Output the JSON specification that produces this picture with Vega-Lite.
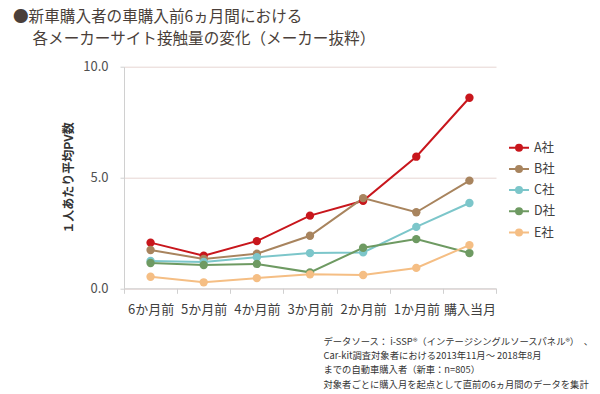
{
  "$schema": "https://vega.github.io/schema/vega-lite/v6.json",
  "autosize": "none",
  "width": 372,
  "height": 221.6,
  "padding": {"left": 124, "top": 66.7, "right": 104, "bottom": 105.7},
  "background": "white",
  "config": {
    "font": "Noto Sans CJK JP",
    "view": {"stroke": null}
  },
  "title": {
    "text": ["●新車購入者の車購入前6ヵ月間における", "\u200b\u3000\u2005各メーカーサイト接触量の変化（メーカー抜粋）"],
    "anchor": "start",
    "frame": "group",
    "dx": -111,
    "offset": 13,
    "fontSize": 15.6,
    "fontWeight": "normal",
    "color": "#4A3F3A",
    "lineHeight": 22,
    "font": "Noto Sans CJK JP"
  },
  "data": {
    "values": [
      {"month": "6か月前", "company": "A社", "pv": 2.06},
      {"month": "5か月前", "company": "A社", "pv": 1.47},
      {"month": "4か月前", "company": "A社", "pv": 2.13},
      {"month": "3か月前", "company": "A社", "pv": 3.28},
      {"month": "2か月前", "company": "A社", "pv": 3.95},
      {"month": "1か月前", "company": "A社", "pv": 5.94},
      {"month": "購入当月", "company": "A社", "pv": 8.6},
      {"month": "6か月前", "company": "B社", "pv": 1.73},
      {"month": "5か月前", "company": "B社", "pv": 1.32},
      {"month": "4か月前", "company": "B社", "pv": 1.56},
      {"month": "3か月前", "company": "B社", "pv": 2.37},
      {"month": "2か月前", "company": "B社", "pv": 4.07},
      {"month": "1か月前", "company": "B社", "pv": 3.43},
      {"month": "購入当月", "company": "B社", "pv": 4.86},
      {"month": "6か月前", "company": "C社", "pv": 1.23},
      {"month": "5か月前", "company": "C社", "pv": 1.19},
      {"month": "4か月前", "company": "C社", "pv": 1.4},
      {"month": "3か月前", "company": "C社", "pv": 1.59},
      {"month": "2か月前", "company": "C社", "pv": 1.62},
      {"month": "1か月前", "company": "C社", "pv": 2.77},
      {"month": "購入当月", "company": "C社", "pv": 3.85},
      {"month": "6か月前", "company": "D社", "pv": 1.14},
      {"month": "5か月前", "company": "D社", "pv": 1.05},
      {"month": "4か月前", "company": "D社", "pv": 1.1},
      {"month": "3か月前", "company": "D社", "pv": 0.72},
      {"month": "2か月前", "company": "D社", "pv": 1.83},
      {"month": "1か月前", "company": "D社", "pv": 2.22},
      {"month": "購入当月", "company": "D社", "pv": 1.59},
      {"month": "6か月前", "company": "E社", "pv": 0.52},
      {"month": "5か月前", "company": "E社", "pv": 0.27},
      {"month": "4か月前", "company": "E社", "pv": 0.46},
      {"month": "3か月前", "company": "E社", "pv": 0.63},
      {"month": "2か月前", "company": "E社", "pv": 0.6},
      {"month": "1か月前", "company": "E社", "pv": 0.92},
      {"month": "購入当月", "company": "E社", "pv": 1.95}
    ]
  },
  "encoding": {
    "x": {
      "field": "month",
      "type": "nominal",
      "sort": ["6か月前", "5か月前", "4か月前", "3か月前", "2か月前", "1か月前", "購入当月"],
      "scale": {"paddingInner": 0, "paddingOuter": 0},
      "axis": {
        "labelAngle": 0,
        "labelFontSize": 13,
        "labelColor": "#404040",
        "labelPadding": 10,
        "domainColor": "#D0D0D0",
        "tickColor": "#D0D0D0",
        "tickBand": "extent",
        "tickSize": 5,
        "title": [
          "データソース： i-SSP®（インテージシングルソースパネル®）　、",
          "Car-kit調査対象者における2013年11月～ 2018年8月",
          "までの自動車購入者（新車：n=805）",
          "対象者ごとに購入月を起点として直前の6ヵ月間のデータを集計"
        ],
        "titleFontSize": 9.3,
        "titleFontWeight": "normal",
        "titleColor": "#333333",
        "titleAnchor": "start",
        "titleAlign": "left",
        "titleBaseline": "top",
        "titleX": 199,
        "titleY": 49,
        "titleLineHeight": 14.3
      }
    },
    "y": {
      "field": "pv",
      "type": "quantitative",
      "scale": {"domain": [0, 10], "nice": false},
      "axis": {
        "values": [0, 5, 10],
        "format": ".1f",
        "labelFontSize": 13,
        "labelColor": "#505050",
        "labelPadding": 12,
        "ticks": true,
        "tickSize": 4,
        "tickColor": "#D0D0D0",
        "domainColor": "#D0D0D0",
        "gridColor": "#E6D6D2",
        "title": "１人あたり平均PV数",
        "titleFontSize": 12,
        "titleFontWeight": "bold",
        "titleColor": "#333333",
        "titlePadding": 7
      }
    },
    "color": {
      "field": "company",
      "type": "nominal",
      "scale": {
        "domain": ["A社", "B社", "C社", "D社", "E社"],
        "range": ["#C8161C", "#A8845E", "#7CC6CA", "#6E9A62", "#F5BE84"]
      },
      "legend": {
        "title": null,
        "orient": "none",
        "legendX": 384,
        "legendY": 70,
        "labelFontSize": 12.5,
        "labelColor": "#404040",
        "rowPadding": 3.2,
        "symbolType": "M-1,0H-0.3M0.3,0H1M0.3,0A0.3,0.3,0,1,1,-0.3,0A0.3,0.3,0,1,1,0.3,0Z",
        "symbolSize": 400,
        "symbolStrokeWidth": 2
      }
    }
  },
  "layer": [
    {"mark": {"type": "line", "strokeWidth": 2}},
    {"mark": {"type": "point", "filled": true, "size": 70, "opacity": 1}}
  ]
}
